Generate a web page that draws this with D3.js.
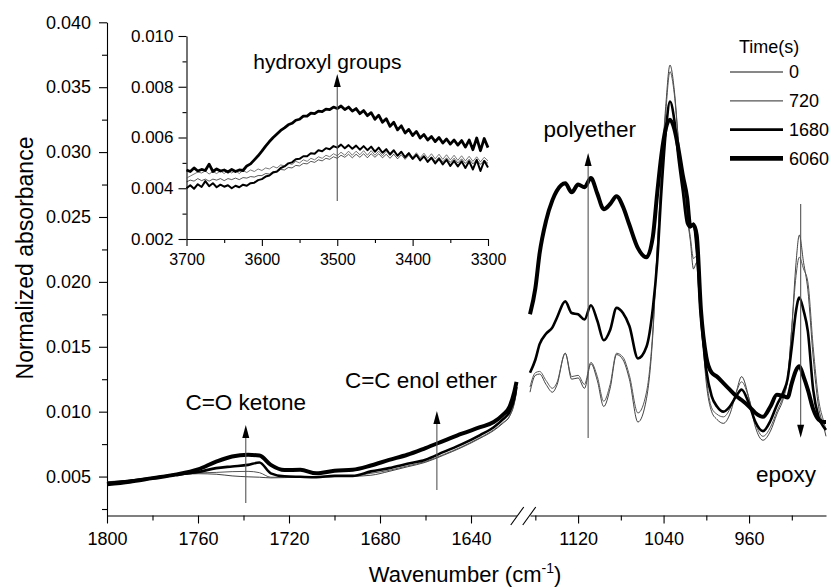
<!DOCTYPE html>
<html>
<head>
<meta charset="utf-8">
<script src="https://cdn.jsdelivr.net/npm/d3@7"></script>
<style>
  body { margin: 0; background: #fff; }
  svg { font-family: "Liberation Sans", Arial, sans-serif; }
</style>
</head>
<body>
<div id="chart"></div>
<script>
// tiempos de la leyenda
const times = ["0", "720", "1680", "6060"];

// tramo izquierdo del eje (1800-1620 cm-1)
const lowWn = [1800, 1790, 1780, 1770, 1760, 1752, 1745, 1738, 1733, 1728, 1722, 1715, 1708, 1700,
  1692, 1684, 1676, 1668, 1660, 1652, 1644, 1636, 1630, 1626, 1623, 1621, 1620];
const low0 = [0.00460, 0.00472, 0.00490, 0.00508, 0.00522, 0.00518, 0.00505, 0.00498, 0.00495, 0.00490,
  0.00492, 0.00495, 0.00495, 0.00500, 0.00502, 0.00510, 0.00540, 0.00575, 0.00610, 0.00665, 0.00725,
  0.00795, 0.00855, 0.00910, 0.00965, 0.01060, 0.01150];
const low720 = [0.00455, 0.00470, 0.00490, 0.00510, 0.00528, 0.00532, 0.00538, 0.00540, 0.00530, 0.00495,
  0.00495, 0.00495, 0.00500, 0.00505, 0.00505, 0.00525, 0.00548, 0.00582, 0.00615, 0.00670, 0.00730,
  0.00800, 0.00860, 0.00915, 0.00970, 0.01070, 0.01160];
const low1680 = [0.00450, 0.00468, 0.00488, 0.00515, 0.00535, 0.00565, 0.00578, 0.00590, 0.00608, 0.00525,
  0.00502, 0.00498, 0.00495, 0.00505, 0.00505, 0.00540, 0.00565, 0.00598, 0.00630, 0.00690, 0.00750,
  0.00820, 0.00880, 0.00940, 0.01000, 0.01100, 0.01190];
const low6060 = [0.00440, 0.00460, 0.00488, 0.00515, 0.00555, 0.00615, 0.00655, 0.00668, 0.00662, 0.00590,
  0.00550, 0.00552, 0.00525, 0.00545, 0.00552, 0.00585, 0.00628, 0.00668, 0.00720, 0.00775, 0.00830,
  0.00880, 0.00920, 0.00975, 0.01040, 0.01150, 0.01230];

// tramo derecho del eje (1165-888 cm-1)
const highWn = [1165, 1160, 1156, 1150, 1144, 1140, 1132, 1126, 1120, 1114, 1108, 1102, 1096, 1090, 1084,
  1078, 1072, 1064, 1056, 1050, 1046, 1042, 1038, 1034, 1030, 1026, 1022, 1018, 1015, 1012, 1009, 1005,
  1000, 995, 990, 984, 978, 972, 967, 960, 954, 947, 940, 934, 928, 924, 920, 916, 913, 909, 905, 900,
  895, 890, 888];
const high0 = [0.0115, 0.0128, 0.0129, 0.0121, 0.0115, 0.0120, 0.0145, 0.0125, 0.0126, 0.0118, 0.0137,
  0.0124, 0.0104, 0.0118, 0.0144, 0.0140, 0.0125, 0.0092, 0.0110, 0.0160, 0.0225, 0.0285, 0.0335, 0.0367,
  0.0348, 0.0308, 0.0275, 0.0250, 0.0232, 0.0210, 0.0215, 0.0175, 0.0122, 0.0100, 0.0094, 0.0091, 0.0098,
  0.0115, 0.0127, 0.0110, 0.0088, 0.0078, 0.0085, 0.0098, 0.0110, 0.0125, 0.0165, 0.0215, 0.0236, 0.0215,
  0.0194, 0.0142, 0.0104, 0.0088, 0.0081];
const high720 = [0.0119, 0.0130, 0.0131, 0.0124, 0.0118, 0.0122, 0.0145, 0.0127, 0.0128, 0.0121, 0.0138,
  0.0127, 0.0108, 0.0121, 0.0145, 0.0142, 0.0128, 0.0099, 0.0115, 0.0163, 0.0225, 0.0282, 0.0330, 0.0362,
  0.0345, 0.0308, 0.0278, 0.0252, 0.0235, 0.0218, 0.0220, 0.0178, 0.0126, 0.0103, 0.0098, 0.0096, 0.0102,
  0.0115, 0.0123, 0.0110, 0.0091, 0.0081, 0.0088, 0.0100, 0.0112, 0.0125, 0.0165, 0.0205, 0.0219, 0.0210,
  0.0200, 0.0150, 0.0110, 0.0092, 0.0086];
const high1680 = [0.0130, 0.0140, 0.0152, 0.0160, 0.0165, 0.0172, 0.0185, 0.0176, 0.0175, 0.0171, 0.0182,
  0.0170, 0.0155, 0.0163, 0.0180, 0.0176, 0.0166, 0.0141, 0.0150, 0.0180, 0.0215, 0.0270, 0.0315, 0.0339,
  0.0325, 0.0295, 0.0270, 0.0245, 0.0242, 0.0245, 0.0225, 0.0175, 0.0132, 0.0112, 0.0104, 0.0100, 0.0104,
  0.0112, 0.0117, 0.0106, 0.0092, 0.0085, 0.0093, 0.0105, 0.0115, 0.0125, 0.0150, 0.0178, 0.0188, 0.0178,
  0.0162, 0.0117, 0.0096, 0.0088, 0.0086];
const high6060 = [0.0175, 0.0195, 0.0222, 0.0247, 0.0263, 0.0270, 0.0276, 0.0269, 0.0275, 0.0273, 0.0280,
  0.0268, 0.0256, 0.0260, 0.0266, 0.0258, 0.0244, 0.0226, 0.0219, 0.0235, 0.0268, 0.0298, 0.0318, 0.0325,
  0.0318, 0.0302, 0.0282, 0.0265, 0.0243, 0.0244, 0.0236, 0.0178, 0.0142, 0.0130, 0.0127, 0.0122, 0.0117,
  0.0112, 0.0109, 0.0104, 0.0099, 0.0096, 0.0104, 0.0113, 0.0112, 0.0111, 0.0122, 0.0132, 0.0135, 0.0127,
  0.0117, 0.0102, 0.0094, 0.0092, 0.0092];

// recuadro: grupos hidroxilo (3700-3300 cm-1), cada 5 cm-1 con el ruido leído
const insetWn = [3700, 3695, 3690, 3685, 3680, 3675, 3670, 3665, 3660, 3655, 3650, 3645, 3640, 3635,
  3630, 3625, 3620, 3615, 3610, 3605, 3600, 3595, 3590, 3585, 3580, 3575, 3570, 3565, 3560, 3555, 3550,
  3545, 3540, 3535, 3530, 3525, 3520, 3515, 3510, 3505, 3500, 3495, 3490, 3485, 3480, 3475, 3470, 3465,
  3460, 3455, 3450, 3445, 3440, 3435, 3430, 3425, 3420, 3415, 3410, 3405, 3400, 3395, 3390, 3385, 3380,
  3375, 3370, 3365, 3360, 3355, 3350, 3345, 3340, 3335, 3330, 3325, 3320, 3315, 3310, 3305, 3300];
const inset0 = [0.00425, 0.00432, 0.00428, 0.00438, 0.00430, 0.00436, 0.00428, 0.00436, 0.00432, 0.00438,
  0.00430, 0.00438, 0.00434, 0.00440, 0.00434, 0.00442, 0.00440, 0.00446, 0.00444, 0.00450, 0.00450,
  0.00458, 0.00456, 0.00466, 0.00464, 0.00474, 0.00472, 0.00482, 0.00480, 0.00490, 0.00488, 0.00498,
  0.00496, 0.00506, 0.00502, 0.00512, 0.00508, 0.00518, 0.00514, 0.00524, 0.00518, 0.00530, 0.00522,
  0.00534, 0.00520, 0.00534, 0.00522, 0.00536, 0.00520, 0.00536, 0.00522, 0.00536, 0.00520, 0.00534,
  0.00518, 0.00534, 0.00516, 0.00532, 0.00514, 0.00530, 0.00512, 0.00528, 0.00510, 0.00526, 0.00508,
  0.00524, 0.00506, 0.00522, 0.00504, 0.00520, 0.00502, 0.00518, 0.00500, 0.00516, 0.00498, 0.00514,
  0.00496, 0.00512, 0.00494, 0.00510, 0.00498];
const inset720 = [0.00440, 0.00448, 0.00456, 0.00464, 0.00460, 0.00468, 0.00456, 0.00466, 0.00458, 0.00468,
  0.00458, 0.00470, 0.00460, 0.00470, 0.00458, 0.00470, 0.00462, 0.00472, 0.00466, 0.00476, 0.00470,
  0.00480, 0.00476, 0.00486, 0.00480, 0.00492, 0.00488, 0.00498, 0.00494, 0.00506, 0.00500, 0.00512,
  0.00506, 0.00518, 0.00512, 0.00524, 0.00518, 0.00530, 0.00524, 0.00536, 0.00528, 0.00542, 0.00530,
  0.00546, 0.00530, 0.00546, 0.00532, 0.00548, 0.00530, 0.00548, 0.00530, 0.00546, 0.00528, 0.00546,
  0.00528, 0.00544, 0.00526, 0.00544, 0.00524, 0.00542, 0.00522, 0.00540, 0.00520, 0.00538, 0.00518,
  0.00536, 0.00516, 0.00534, 0.00514, 0.00532, 0.00512, 0.00530, 0.00510, 0.00528, 0.00508, 0.00526,
  0.00506, 0.00524, 0.00504, 0.00522, 0.00508];
const inset1680 = [0.00400, 0.00412, 0.00398, 0.00416, 0.00405, 0.00428, 0.00408, 0.00420, 0.00404, 0.00414,
  0.00406, 0.00412, 0.00400, 0.00410, 0.00404, 0.00414, 0.00410, 0.00420, 0.00422, 0.00432, 0.00436,
  0.00446, 0.00450, 0.00462, 0.00466, 0.00480, 0.00486, 0.00498, 0.00502, 0.00514, 0.00516, 0.00526,
  0.00526, 0.00538, 0.00536, 0.00550, 0.00546, 0.00558, 0.00554, 0.00566, 0.00560, 0.00572, 0.00558,
  0.00570, 0.00556, 0.00568, 0.00552, 0.00566, 0.00550, 0.00564, 0.00544, 0.00560, 0.00540, 0.00554,
  0.00534, 0.00550, 0.00528, 0.00544, 0.00522, 0.00538, 0.00516, 0.00532, 0.00510, 0.00526, 0.00504,
  0.00520, 0.00498, 0.00516, 0.00494, 0.00512, 0.00488, 0.00508, 0.00486, 0.00506, 0.00480, 0.00506,
  0.00474, 0.00512, 0.00468, 0.00508, 0.00482];
const inset6060 = [0.00472, 0.00466, 0.00480, 0.00468, 0.00474, 0.00470, 0.00495, 0.00466, 0.00476, 0.00468,
  0.00472, 0.00464, 0.00474, 0.00466, 0.00472, 0.00470, 0.00488, 0.00496, 0.00512, 0.00528, 0.00546,
  0.00566, 0.00584, 0.00600, 0.00614, 0.00628, 0.00638, 0.00650, 0.00656, 0.00668, 0.00672, 0.00684,
  0.00684, 0.00696, 0.00694, 0.00704, 0.00702, 0.00712, 0.00710, 0.00720, 0.00714, 0.00724, 0.00710,
  0.00720, 0.00704, 0.00714, 0.00694, 0.00706, 0.00686, 0.00698, 0.00672, 0.00688, 0.00660, 0.00674,
  0.00644, 0.00660, 0.00630, 0.00646, 0.00618, 0.00632, 0.00608, 0.00624, 0.00598, 0.00612, 0.00590,
  0.00604, 0.00584, 0.00600, 0.00578, 0.00594, 0.00574, 0.00590, 0.00570, 0.00588, 0.00562, 0.00590,
  0.00552, 0.00598, 0.00548, 0.00596, 0.00560];

// ticks
const yTicks = [0.005, 0.010, 0.015, 0.020, 0.025, 0.030, 0.035, 0.040];
const yMinor = [0.0025, 0.0075, 0.0125, 0.0175, 0.0225, 0.0275, 0.0325, 0.0375];
const lowTicks = [1800, 1760, 1720, 1680, 1640];
const lowMinor = [1780, 1740, 1700, 1660];
const highTicks = [1120, 1040, 960];
const highMinor = [1160, 1080, 1000, 920];
const inYTicks = [0.002, 0.004, 0.006, 0.008, 0.010];
const inYMinor = [0.003, 0.005, 0.007, 0.009];
const inXTicks = [3700, 3600, 3500, 3400, 3300];
const inXMinor = [3650, 3550, 3450, 3350];

// anotaciones (en unidades de los datos)
const notes = [
  { text: "C=O ketone", part: "low", wn: 1739, from: 0.00296, to: 0.00897, tx: 1739, ty: 0.01013 },
  { text: "C=C enol ether", part: "low", wn: 1655, from: 0.00396, to: 0.01005, tx: 1662, ty: 0.01182 },
  { text: "polyether", part: "high", wn: 1110.6, from: 0.00797, to: 0.02993, tx: 1109, ty: 0.03116 },
  { text: "epoxy", part: "high", wn: 911.7, from: 0.0260, to: 0.0080, tx: 925.4, ty: 0.0046 }
];

const lowVals = [low0, low720, low1680, low6060];
const highVals = [high0, high720, high1680, high6060];
const insetVals = [inset0, inset720, inset1680, inset6060];

// estilos de cada tiempo
const mainWidth = [0.8, 1.0, 2.6, 4.0];
const insetWidth = [0.7, 0.8, 2.0, 2.8];
const lineColor = ["#111", "#555", "#000", "#000"];

const W = 831, H = 588;
const svg = d3.select("#chart").append("svg")
  .attr("width", W)
  .attr("height", H);

// escalas
const y = d3.scaleLinear().domain([0.002, 0.040]).range([515.5, 22.3]);
const xLow = d3.scaleLinear().domain([1800, 1620]).range([107, 516.5]);
const xHigh = d3.scaleLinear().domain([1165, 888]).range([530, 826]);
const xIn = d3.scaleLinear().domain([3700, 3300]).range([186.5, 488]);
const yIn = d3.scaleLinear().domain([0.002, 0.010]).range([239, 36]);

function styleAxis(g, size) {
  g.selectAll("path.domain").attr("stroke", "#000").attr("stroke-width", 1.1);
  g.selectAll(".tick line").attr("stroke", "#000").attr("stroke-width", 1.1);
  g.selectAll(".tick text").attr("fill", "#000")
    .style("font-size", size + "px")
    .style("font-family", '"Liberation Sans", Arial, sans-serif');
}

// eje y principal
const gy = svg.append("g").attr("transform", "translate(107,0)")
  .call(d3.axisLeft(y).tickValues(yTicks).tickFormat(d3.format(".3f"))
    .tickSize(8).tickPadding(8).tickSizeOuter(0));
styleAxis(gy, 18);
const gyMinor = svg.append("g").attr("transform", "translate(107,0)")
  .call(d3.axisLeft(y).tickValues(yMinor).tickFormat("").tickSize(5));
gyMinor.select(".domain").remove();
styleAxis(gyMinor, 18);

// eje x partido en dos tramos
[[xLow, lowTicks, lowMinor], [xHigh, highTicks, highMinor]].forEach(([sc, maj, mnr]) => {
  const g = svg.append("g").attr("transform", "translate(0,515.5)")
    .call(d3.axisBottom(sc).tickValues(maj).tickFormat(d3.format("d"))
      .tickSize(8).tickPadding(9).tickSizeOuter(0));
  styleAxis(g, 18);
  const gm = svg.append("g").attr("transform", "translate(0,515.5)")
    .call(d3.axisBottom(sc).tickValues(mnr).tickFormat("").tickSize(5));
  gm.select(".domain").remove();
  styleAxis(gm, 18);
});

// marcas de corte //
const bx = (xLow.range()[1] + xHigh.range()[0]) / 2;
[-6, 6].forEach(off => {
  svg.append("line")
    .attr("x1", bx + off - 6.5).attr("y1", 525)
    .attr("x2", bx + off + 6.5).attr("y2", 507)
    .attr("stroke", "#000").attr("stroke-width", 1.1);
});

// curvas principales
times.forEach((t, i) => {
  const lineLow = d3.line()
    .x((d, j) => xLow(lowWn[j]))
    .y(d => y(d))
    .curve(d3.curveMonotoneX);
  const lineHigh = d3.line()
    .x((d, j) => xHigh(highWn[j]))
    .y(d => y(d))
    .curve(d3.curveMonotoneX);
  svg.append("path").datum(lowVals[i])
    .attr("fill", "none").attr("stroke", lineColor[i])
    .attr("stroke-width", mainWidth[i]).attr("stroke-linejoin", "round")
    .attr("d", lineLow);
  svg.append("path").datum(highVals[i])
    .attr("fill", "none").attr("stroke", lineColor[i])
    .attr("stroke-width", mainWidth[i]).attr("stroke-linejoin", "round")
    .attr("d", lineHigh);
});

// flechas
function arrow(x, y1, y2) {
  const dir = y2 < y1 ? 1 : -1;
  svg.append("line")
    .attr("x1", x).attr("y1", y1)
    .attr("x2", x).attr("y2", y2 + dir * 10)
    .attr("stroke", "#555").attr("stroke-width", 1.1);
  svg.append("path")
    .attr("d", `M${x},${y2} L${x - 3.5},${y2 + dir * 13} L${x + 3.5},${y2 + dir * 13} Z`)
    .attr("fill", "#000");
}

notes.forEach(n => {
  const sc = n.part === "low" ? xLow : xHigh;
  arrow(sc(n.wn), y(n.from), y(n.to));
  svg.append("text")
    .attr("x", sc(n.tx)).attr("y", y(n.ty))
    .attr("text-anchor", "middle")
    .style("font-size", "22.5px")
    .text(n.text);
});

// recuadro
const giy = svg.append("g").attr("transform", `translate(${xIn.range()[0]},0)`)
  .call(d3.axisLeft(yIn).tickValues(inYTicks).tickFormat(d3.format(".3f"))
    .tickSize(8).tickPadding(5).tickSizeOuter(0));
styleAxis(giy, 17);
const giyMinor = svg.append("g").attr("transform", `translate(${xIn.range()[0]},0)`)
  .call(d3.axisLeft(yIn).tickValues(inYMinor).tickFormat("").tickSize(4));
giyMinor.select(".domain").remove();
styleAxis(giyMinor, 17);

const gix = svg.append("g").attr("transform", `translate(0,${yIn.range()[0]})`)
  .call(d3.axisBottom(xIn).tickValues(inXTicks).tickFormat(d3.format("d"))
    .tickSize(7).tickPadding(8).tickSizeOuter(0));
styleAxis(gix, 16);
const gixMinor = svg.append("g").attr("transform", `translate(0,${yIn.range()[0]})`)
  .call(d3.axisBottom(xIn).tickValues(inXMinor).tickFormat("").tickSize(4));
gixMinor.select(".domain").remove();
styleAxis(gixMinor, 16);

times.forEach((t, i) => {
  const lineIn = d3.line()
    .x((d, j) => xIn(insetWn[j]))
    .y(d => yIn(d));
  svg.append("path").datum(insetVals[i])
    .attr("fill", "none").attr("stroke", lineColor[i])
    .attr("stroke-width", insetWidth[i]).attr("stroke-linejoin", "round")
    .attr("d", lineIn);
});

arrow(xIn(3500), yIn(0.0035), yIn(0.0085));
svg.append("text")
  .attr("x", xIn(3513)).attr("y", yIn(0.0087))
  .attr("text-anchor", "middle")
  .style("font-size", "21px")
  .text("hydroxyl groups");

// leyenda
svg.append("text")
  .attr("x", 739).attr("y", 53)
  .style("font-size", "18px")
  .text("Time(s)");
const legend = svg.selectAll(".legend")
  .data(times)
  .enter().append("g")
  .attr("class", "legend")
  .attr("transform", (d, i) => `translate(730, ${72 + i * 28.8})`);
legend.append("line")
  .attr("x1", 0).attr("x2", 53)
  .attr("stroke", (d, i) => lineColor[i])
  .attr("stroke-width", (d, i) => mainWidth[i] + (i === 3 ? 0.8 : 0.2));
legend.append("text")
  .attr("x", 59).attr("dy", "0.36em")
  .style("font-size", "18px")
  .text(d => d);

// titulos de los ejes
svg.append("text")
  .attr("transform", "translate(33,258) rotate(-90)")
  .attr("text-anchor", "middle")
  .style("font-size", "23px")
  .text("Normalized absorbance");

const xt = svg.append("text")
  .attr("x", 465).attr("y", 582)
  .attr("text-anchor", "middle")
  .style("font-size", "22px");
xt.append("tspan").text("Wavenumber (cm");
xt.append("tspan").attr("dy", -9).style("font-size", "14px").text("-1");
xt.append("tspan").attr("dy", 9).text(")");
</script>
</body>
</html>
